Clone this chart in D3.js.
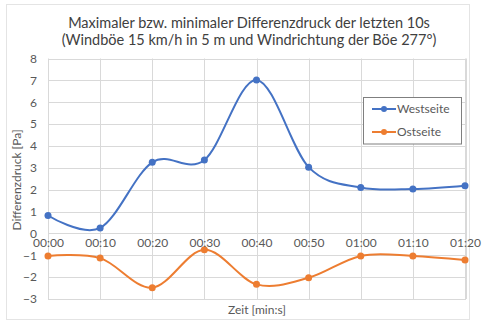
<!DOCTYPE html>
<html><head><meta charset="utf-8">
<script src="https://cdn.jsdelivr.net/npm/d3@7"></script>
<style>body{margin:0;background:#fff}svg{display:block}</style>
</head><body>
<script>
const categories = ["00:00","00:10","00:20","00:30","00:40","00:50","01:00","01:10","01:20"];
const westseite = [0.82, 0.25, 3.25, 3.36, 7.02, 3.03, 2.1, 2.03, 2.18];
const ostseite = [-1.03, -1.13, -2.48, -0.75, -2.33, -2.03, -1.03, -1.03, -1.22];
const yTicks = [-3,-2,-1,0,1,2,3,4,5,6,7,8];
const titleLines = ["Maximaler bzw. minimaler Differenzdruck der letzten 10s","(Windböe 15 km/h in 5 m und Windrichtung der Böe 277°)"];
const seriesNames = ["Westseite","Ostseite"];
const colors = ["#4472C4","#ED7D31"];

const W=482,H=322;
const font="Lato, 'Open Sans', sans-serif";
const svg=d3.select("body").append("svg").attr("width",W).attr("height",H);
svg.append("rect").attr("x",6.5).attr("y",4.5).attr("width",463).attr("height",315).attr("fill","#fff").attr("stroke","#e4e4e4");

const x=d3.scalePoint().domain(categories).range([48,465]);
const y=d3.scaleLinear().domain([-3,8]).range([299,58.5]);

// grid
const g=svg.append("g");
g.selectAll(".hg").data(yTicks).join("line").attr("x1",48).attr("x2",466)
 .attr("y1",d=>Math.round(y(d))+0.5).attr("y2",d=>Math.round(y(d))+0.5).attr("stroke","#d9d9d9");
g.selectAll(".vg").data(categories).join("line").attr("y1",58.5).attr("y2",299)
 .attr("x1",d=>Math.round(x(d))+0.5).attr("x2",d=>Math.round(x(d))+0.5).attr("stroke","#d9d9d9");
g.append("line").attr("x1",466.5).attr("x2",466.5).attr("y1",58.5).attr("y2",299).attr("stroke","#d9d9d9");

// y axis labels
const yAxis=d3.axisLeft(y).tickValues(yTicks).tickSize(0).tickPadding(0);
const ya=svg.append("g").attr("transform","translate(37,0)").call(yAxis);
ya.select(".domain").remove();
ya.selectAll("text").attr("font-family",font).attr("font-size",12).attr("fill","#595959");

// series
const line=d3.line().x((d,i)=>x(categories[i])).y(d=>y(d)).curve(d3.curveCatmullRom.alpha(0));
[westseite,ostseite].forEach((s,k)=>{
  svg.append("path").attr("d",line(s)).attr("fill","none").attr("stroke",colors[k]).attr("stroke-width",2);
  svg.selectAll(".m"+k).data(s).join("circle").attr("cx",(d,i)=>x(categories[i])).attr("cy",d=>y(d)).attr("r",3.5).attr("fill",colors[k]);
});

// x axis labels at zero
const xAxis=d3.axisBottom(x).tickSize(0).tickPadding(5);
const xa=svg.append("g").attr("transform",`translate(0,${y(0)})`).call(xAxis);
xa.select(".domain").remove();
xa.selectAll("text").attr("font-family",font).attr("font-size",12).attr("fill","#595959");

// titles
svg.selectAll(".title").data(titleLines).join("text").attr("x",249).attr("y",(d,i)=>27.5+i*17)
 .attr("text-anchor","middle").attr("font-family",font).attr("font-size",14.5).attr("fill","#404040").text(d=>d);
svg.append("text").attr("transform","translate(21,180) rotate(-90)").attr("text-anchor","middle")
 .attr("font-family",font).attr("font-size",12).attr("fill","#595959").text("Differenzdruck [Pa]");
svg.append("text").attr("x",257).attr("y",314).attr("text-anchor","middle")
 .attr("font-family",font).attr("font-size",12).attr("fill","#595959").text("Zeit [min:s]");

// legend
const lg=svg.append("g");
lg.append("rect").attr("x",363.5).attr("y",97.5).attr("width",98).attr("height",46.5).attr("fill","#fff").attr("stroke","#7f7f7f");
seriesNames.forEach((n,k)=>{
  const cy=109+k*23;
  lg.append("line").attr("x1",372).attr("x2",396).attr("y1",cy).attr("y2",cy).attr("stroke",colors[k]).attr("stroke-width",2);
  lg.append("circle").attr("cx",384).attr("cy",cy).attr("r",3).attr("fill",colors[k]);
  lg.append("text").attr("x",397).attr("y",cy+4).attr("font-family",font).attr("font-size",12).attr("fill","#595959").text(n);
});
</script>
</body></html>
